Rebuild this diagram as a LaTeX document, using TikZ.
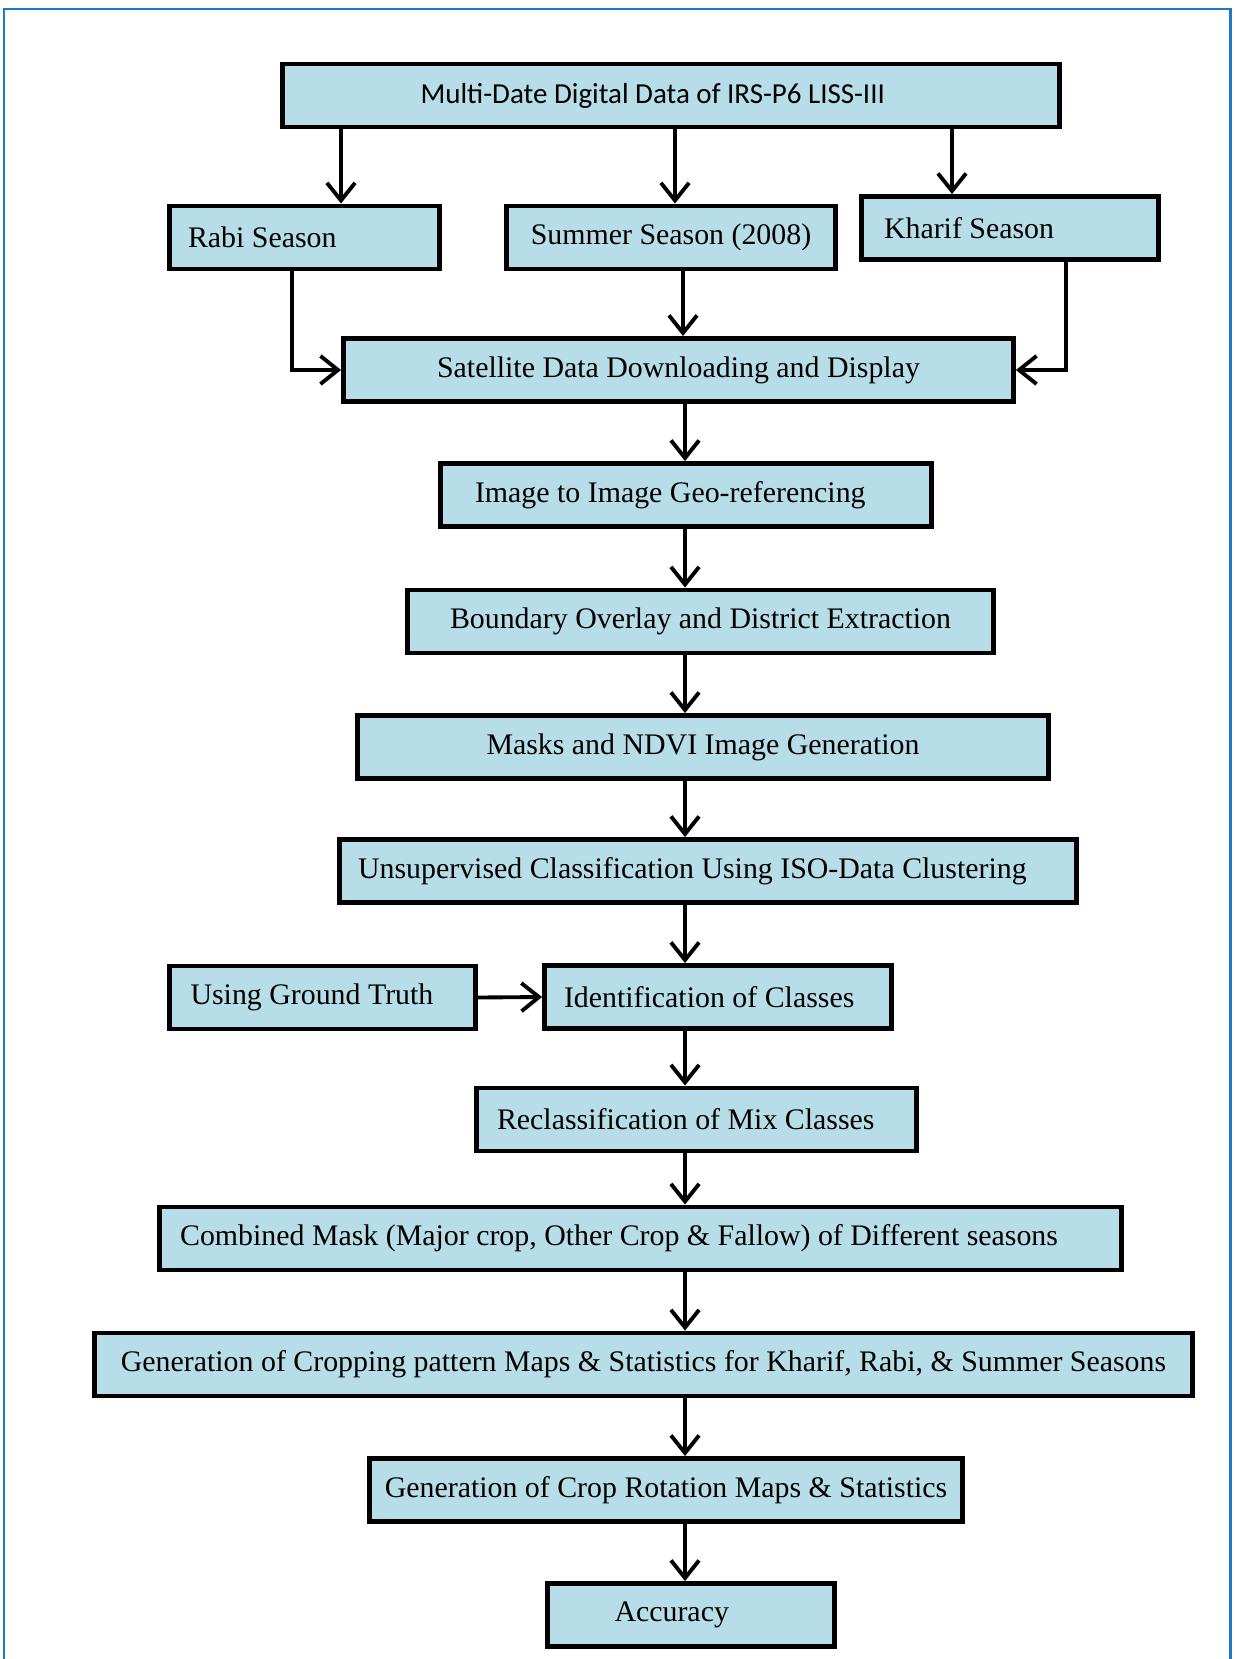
\documentclass[tikz,border=0pt]{standalone}
\usepackage{fontspec}
\setmainfont{Liberation Serif}
\newfontfamily\calibrifont{Carlito}
\usepackage{xcolor}
\usepackage{tikz}
\usetikzlibrary{arrows.meta}

\definecolor{boxblue}{RGB}{183,221,232}
\definecolor{frameblue}{RGB}{30,120,200}

\begin{document}
\begin{tikzpicture}[x=0.02cm, y=-0.02cm,
    stage/.style={draw, line width=2.8pt, fill=boxblue, minimum height=1.26cm,
      inner sep=0pt, font=\fontsize{17}{20}\selectfont},
    padded/.style={align=flush left, inner xsep=#1},
    arr/.style={line width=2.2pt, -{Straight Barb[length=10pt, width=16pt]}}]
    \useasboundingbox (0,0) rectangle (1234,1659);
    \draw[frameblue, line width=1.7pt] (4,1659) -- (4,9) -- (1230,9) -- (1230,1659);

    % data and seasons
    \node[stage, minimum width=15.54cm, padded=2.76cm, text width=10.02cm,
      font=\calibrifont\fontsize{16.5}{19}\selectfont]
      (multi) at (671,95.5) {Multi-Date Digital Data of IRS-P6 LISS-III};
    \node[stage, minimum width=5.40cm, padded=0.37cm, text width=4.66cm]
      (rabi) at (304.5,237.5) {Rabi Season};
    \node[stage, minimum width=6.58cm] (summer) at (671,237.5) {Summer Season (2008)};
    \node[stage, minimum width=5.94cm, padded=0.45cm, text width=5.04cm]
      (kharif) at (1010,228) {Kharif Season};

    % processing chain
    \node[stage, minimum width=13.40cm] (sat) at (678.5,370) {Satellite Data Downloading and Display};
    \node[stage, minimum width=9.82cm, padded=0.69cm, text width=8.44cm]
      (img) at (686,495) {Image to Image Geo-referencing};
    \node[stage, minimum width=11.72cm] (bound) at (700.5,621.5) {Boundary Overlay and District Extraction};
    \node[stage, minimum width=13.82cm] (masks) at (703,747) {Masks and NDVI Image Generation};
    \node[stage, minimum width=14.74cm, padded=0.37cm, text width=14.0cm]
      (unsup) at (708,871) {Unsupervised Classification Using ISO-Data Clustering};
    \node[stage, minimum width=6.12cm, padded=0.42cm, text width=5.28cm]
      (ground) at (322.5,997.5) {Using Ground Truth};
    \node[stage, minimum width=6.94cm, padded=0.39cm, text width=6.16cm]
      (ident) at (718,997) {Identification of Classes};
    \node[stage, minimum width=8.80cm, padded=0.41cm, text width=7.98cm]
      (reclass) at (696.5,1119.5) {Reclassification of Mix Classes};
    \node[stage, minimum width=19.24cm, padded=0.41cm, text width=18.42cm] (comb) at (640.5,1238.5)
      {Combined Mask (Major crop, Other Crop \& Fallow) of Different seasons};
    \node[stage, minimum width=21.96cm] (crop) at (643.5,1364.5)
      {Generation of Cropping pattern Maps \& Statistics for Kharif, Rabi, \& Summer Seasons};
    \node[stage, minimum width=11.86cm] (rot) at (666,1490) {Generation of Crop Rotation Maps \& Statistics};
    \node[stage, minimum width=5.74cm, padded=1.34cm, text width=3.06cm]
      (acc) at (691,1615) {Accuracy};

    % where the connectors run
    \coordinate (toRabi) at (341,0);
    \coordinate (toSummer) at (675,0);
    \coordinate (toKharif) at (952,0);
    \coordinate (fromRabi) at (292,0);
    \coordinate (fromSummer) at (683,0);
    \coordinate (fromKharif) at (1066,0);
    \coordinate (spine) at (685,0);

    \draw[arr] (multi.south -| toRabi) to (rabi.north -| toRabi);
    \draw[arr] (multi.south -| toSummer) to (summer.north -| toSummer);
    \draw[arr] (multi.south -| toKharif) to (kharif.north -| toKharif);
    \draw[arr] (rabi.south -| fromRabi) |- (sat.west);
    \draw[arr] (summer.south -| fromSummer) to (sat.north -| fromSummer);
    \draw[arr] (kharif.south -| fromKharif) |- (sat.east);

    \draw[arr] (sat.south -| spine) to (img.north -| spine);
    \draw[arr] (img.south -| spine) to (bound.north -| spine);
    \draw[arr] (bound.south -| spine) to (masks.north -| spine);
    \draw[arr] (masks.south -| spine) to (unsup.north -| spine);
    \draw[arr] (unsup.south -| spine) to (ident.north -| spine);
    \draw[arr] (ground.east) to (ident.west);
    \draw[arr] (ident.south -| spine) to (reclass.north -| spine);
    \draw[arr] (reclass.south -| spine) to (comb.north -| spine);
    \draw[arr] (comb.south -| spine) to (crop.north -| spine);
    \draw[arr] (crop.south -| spine) to (rot.north -| spine);
    \draw[arr] (rot.south -| spine) to (acc.north -| spine);
\end{tikzpicture}
\end{document}
